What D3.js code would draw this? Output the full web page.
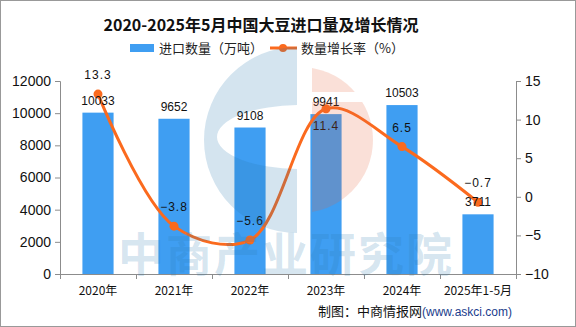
<!DOCTYPE html>
<html><head><meta charset="utf-8">
<script src="https://cdn.jsdelivr.net/npm/d3@7/dist/d3.min.js"></script>
<style>body{margin:0;background:#fff}svg{display:block}</style>
</head><body><svg id="c" width="576" height="327"></svg>
<script>
const categories = ["2020年","2021年","2022年","2023年","2024年","2025年1-5月"];
const importVolume = [10033, 9652, 9108, 9941, 10503, 3711];
const growthRate = [13.3, -3.8, -5.6, 11.4, 6.5, -0.7];
const leftTicks = [0,2000,4000,6000,8000,10000,12000];
const rightTicks = [-10,-5,0,5,10,15];
const rateLabelPos = ["above","above","above","below","above","above"];

const svg = d3.select("#c");
const W=576,H=327;
const x = d3.scaleBand().domain(categories).range([60,516]).paddingInner(0.59).paddingOuter(0.295);
const yL = d3.scaleLinear().domain([0,12000]).range([274,81]);
const yR = d3.scaleLinear().domain([-10,15]).range([274,81]);
const axisCol="#8c8c8c";
const font="'Liberation Sans', Arial, sans-serif";
const cjk="'Noto Sans CJK SC', sans-serif";

svg.append("rect").attr("x",0.5).attr("y",0.5).attr("width",W-1).attr("height",H-1).attr("fill","#fff").attr("stroke","#999");

// title
svg.append("text").attr("x",261).attr("y",31).attr("text-anchor","middle")
  .style("font-family",cjk).style("font-weight","bold").style("font-size","16px").attr("fill","#111")
  .text("2020-2025年5月中国大豆进口量及增长情况");

// legend
svg.append("rect").attr("x",130).attr("y",44).attr("width",24).attr("height",8).attr("fill","#3f9ef2");
svg.append("text").attr("x",159).attr("y",53).style("font-family",cjk).style("font-size","13px").attr("fill","#222").text("进口数量（万吨）");
svg.append("line").attr("x1",270).attr("x2",297).attr("y1",48).attr("y2",48).attr("stroke","#fb6a1e").attr("stroke-width",3);
svg.append("circle").attr("cx",283).attr("cy",48).attr("r",4).attr("fill","#fb6a1e");
svg.append("text").attr("x",301).attr("y",53).style("font-family",cjk).style("font-size","13px").attr("fill","#222").text("数量增长率（%）");

// axes
const gL = svg.append("g").attr("transform","translate(60,0)")
  .call(d3.axisLeft(yL).tickValues(leftTicks).tickSize(5).tickPadding(4).tickFormat(d3.format("d")));
const gR = svg.append("g").attr("transform","translate(516,0)")
  .call(d3.axisRight(yR).tickValues(rightTicks).tickSize(5).tickPadding(4).tickFormat(d=>d<0?"\u2212"+Math.abs(d):d));
const xb = d3.scaleLinear().domain([0,6]).range([60,516]);
const gB = svg.append("g").attr("transform","translate(0,274)")
  .call(d3.axisBottom(xb).tickValues(d3.range(7)).tickSize(5).tickFormat(""));
[gL,gR,gB].forEach(g=>{
  g.select(".domain").attr("stroke",axisCol);
  g.selectAll(".tick line").attr("stroke",axisCol);
  g.selectAll("text").style("font-family",font).style("font-size","14px").attr("fill","#111");
});
gB.select(".domain").attr("d","M55,0.5H521");
gL.select(".domain").attr("d","M-5,81.5H0.5V274");
gR.select(".domain").attr("d","M5,81.5H0.5V274");

svg.append("g").selectAll("text").data(categories).join("text")
  .attr("x",d=>x(d)+x.bandwidth()/2).attr("y",295).attr("text-anchor","middle")
  .style("font-family",cjk).style("font-size","12px").attr("fill","#111").text(d=>d);

// bars
svg.append("g").selectAll("rect").data(importVolume).join("rect")
  .attr("x",(d,i)=>x(categories[i])).attr("width",x.bandwidth())
  .attr("y",d=>yL(d)).attr("height",d=>274-yL(d)).attr("fill","#3f9ef2");

// line
const cx=i=>x(categories[i])+x.bandwidth()/2;
const line = d3.line().x((d,i)=>cx(i)).y(d=>yR(d)).curve(d3.curveCatmullRom.alpha(0.5));
svg.append("path").datum(growthRate).attr("d",line).attr("fill","none").attr("stroke","#fb6a1e").attr("stroke-width",3);
svg.append("g").selectAll("circle").data(growthRate).join("circle")
  .attr("cx",(d,i)=>cx(i)).attr("cy",d=>yR(d)).attr("r",4.5).attr("fill","#fb6a1e");

// labels
svg.append("g").selectAll("text").data(importVolume).join("text")
  .attr("x",(d,i)=>cx(i)).attr("y",d=>yL(d)-8).attr("text-anchor","middle")
  .style("font-family",font).style("font-size","12px").attr("fill","#111").text(d=>d);
svg.append("g").selectAll("text").data(growthRate).join("text")
  .attr("x",(d,i)=>cx(i)).attr("y",(d,i)=>rateLabelPos[i]==="above"?yR(d)-15:yR(d)+21).attr("text-anchor","middle")
  .style("font-family",font).style("font-size","12px").attr("fill","#111").attr("letter-spacing","1px")
  .text(d=>d<0?"\u2212"+Math.abs(d):d);

// watermark
const wm = svg.append("g").attr("pointer-events","none");
const R=93, C=[300,140];
const blue = `M297,${C[1]-R} A${R},${R} 0 0 0 297,${C[1]+R} Z M${C[0]-83},${C[1]-3} A83,32 0 1 0 ${C[0]+83},${C[1]-3} A83,32 0 1 0 ${C[0]-83},${C[1]-3} Z`;
wm.append("clipPath").attr("id","lc").append("rect").attr("x",0).attr("y",0).attr("width",297).attr("height",327);
wm.append("path").attr("d",blue).attr("fill","#2a7ab0").attr("fill-opacity",0.2).attr("fill-rule","evenodd").attr("clip-path","url(#lc)");
wm.append("clipPath").attr("id","rc").append("path").attr("d","M312,0H576V92H312Z M312,102H576V327H312Z");
wm.append("circle").attr("cx",C[0]).attr("cy",C[1]).attr("r",R-20).attr("fill","#e8643a").attr("fill-opacity",0.2).attr("clip-path","url(#rc)");
wm.append("text").attr("x",286).attr("y",271).attr("text-anchor","middle")
  .style("font-family",cjk).style("font-weight","bold").style("font-size","46px").attr("letter-spacing","2px")
  .attr("fill","#2a7ab0").attr("fill-opacity",0.2).text("中商产业研究院");

// footer
const ft = svg.append("text").attr("x",512).attr("y",316).attr("text-anchor","end").style("font-family",cjk).style("font-size","13px");
ft.append("tspan").attr("fill","#111").text("制图：中商情报网");
ft.append("tspan").attr("fill","#1a3c8c").style("font-family",font).style("font-size","12px").text("(www.askci.com)");
</script></body></html>
